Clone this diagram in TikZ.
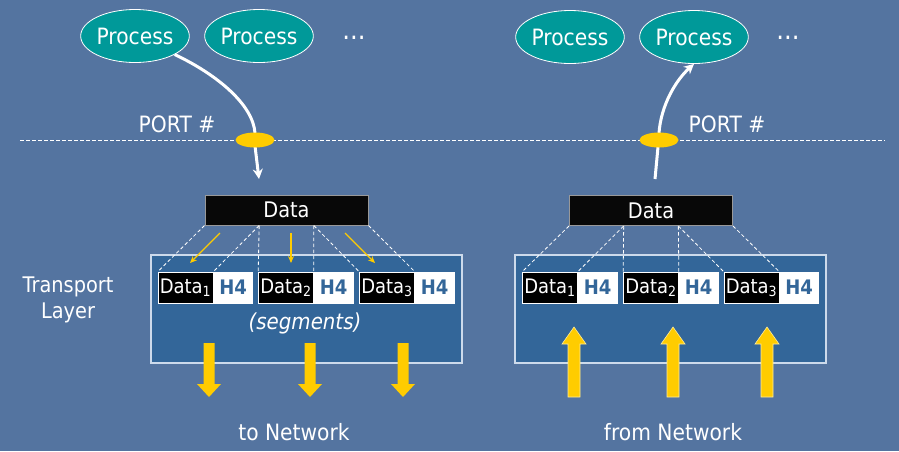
\documentclass[tikz,border=0pt]{standalone}
\usepackage{fontspec}
\setmainfont{DejaVu Sans}[FakeStretch=0.9]
\usetikzlibrary{shapes.geometric,arrows.meta,calc}
\definecolor{bgblue}{RGB}{84,116,160}
\definecolor{boxblue}{RGB}{51,102,153}
\definecolor{procteal}{RGB}{0,153,153}
\definecolor{yel}{RGB}{255,204,0}
\definecolor{boxedge}{RGB}{205,218,235}
\begin{document}
\begin{tikzpicture}[x=1pt,y=-1pt,
  lbl/.style={text=white,font=\fontsize{22.5}{26}\selectfont,inner sep=0pt},
  proc/.style={ellipse,fill=procteal,draw=white,line width=0.8pt,minimum width=108pt,minimum height=53pt,inner sep=0pt,text=white,font=\fontsize{22.5}{26}\selectfont},
  port/.style={ellipse,fill=yel,draw=none,minimum width=39pt,minimum height=15pt,inner sep=0pt},
  databox/.style={rectangle,fill=black!97,draw=black!40,line width=1pt,minimum width=163pt,minimum height=30pt,inner sep=0pt,text=white,font=\fontsize{21.5}{25}\selectfont},
  tbox/.style={rectangle,fill=boxblue,draw=boxedge,line width=1.5pt,minimum width=311pt,minimum height=108pt,inner sep=0pt},
  segd/.style={rectangle,fill=black,draw=white,line width=0.6pt,minimum width=55pt,minimum height=31pt,inner sep=0pt,text=white,font=\fontsize{20}{24}\selectfont},
  segh/.style={rectangle,fill=white,draw=white,line width=0.6pt,minimum width=39pt,minimum height=31pt,inner sep=0pt,text=boxblue,font=\fontsize{20}{24}\selectfont\bfseries},
  thindash/.style={draw=white,line width=0.8pt,dash pattern=on 3.5pt off 2.5pt},
  warrow/.style={draw=white,line width=3pt},
  yarrow/.style={draw=yel,line width=1.2pt,-{Stealth[length=7pt,width=6pt]}},
  fatdown/.pic={\fill[yel] (-5.5,0) -- (5.5,0) -- (5.5,41) -- (12,41) -- (0,54) -- (-12,41) -- (-5.5,41) -- cycle;},
  fatup/.pic={\fill[yel,draw=white!60!yel,line width=0.6pt] (0,0) -- (12,17) -- (6,17) -- (6,70) -- (-6,70) -- (-6,17) -- (-12,17) -- cycle;}
]
\fill[bgblue] (0,0) rectangle (899,451);
\useasboundingbox (0,0) rectangle (899,451);

% processes
\node[proc] (p1) at (135,36) {Process};
\node[proc] (p2) at (259,36) {Process};
\node[lbl,font=\fontsize{27}{30}\selectfont] (d1) at (354,38) {...};
\node[proc] (p3) at (570,37) {Process};
\node[proc] (p4) at (694,37) {Process};
\node[lbl,font=\fontsize{27}{30}\selectfont] (d2) at (788,38) {...};

% port line
\coordinate (hl) at (20,140);
\coordinate (hr) at (885,140);
\draw[thindash] (hl) -- (hr);
\node[lbl] (portlblL) at (177,124) {PORT \#};
\node[lbl] (portlblR) at (727,124) {PORT \#};

% arrows through ports
\coordinate (tipL) at (259,179);
\coordinate (startR) at (655,179);
\draw[warrow] (p1.-25) .. controls (218,75) and (253,105) .. (255,133);
\draw[warrow] (startR) -- (658,147);
\draw[warrow,-{Stealth[length=10pt,width=10pt]}] (659,133) .. controls (661,105) and (676,80) .. (p4.south);
\draw[warrow,-{Stealth[length=10pt,width=10pt]}] (255,146) -- (tipL);
\node[port] (pL) at (255,140) {};
\node[port] (pR) at (659,140) {};

% transport boxes
\node[tbox] (tL) at (306.5,309) {};
\node[tbox] (tR) at (670.5,309) {};

% data boxes
\node[databox] (dL) at (286.5,210) {Data};
\node[databox] (dR) at (651,210.5) {Data};

% segments left
\node[segd] (s1) at (185.5,287.5) {Data\textsubscript{1}};
\node[segh,anchor=west] (h1) at (s1.east) {H4};
\node[segd] (s2) at (286,287.5) {Data\textsubscript{2}};
\node[segh,anchor=west] (h2) at (s2.east) {H4};
\node[segd] (s3) at (387,287.5) {Data\textsubscript{3}};
\node[segh,anchor=west] (h3) at (s3.east) {H4};
% segments right
\node[segd] (r1) at (550,287.5) {Data\textsubscript{1}};
\node[segh,anchor=west] (g1) at (r1.east) {H4};
\node[segd] (r2) at (651,287.5) {Data\textsubscript{2}};
\node[segh,anchor=west] (g2) at (r2.east) {H4};
\node[segd] (r3) at (751.5,287.5) {Data\textsubscript{3}};
\node[segh,anchor=west] (g3) at (r3.east) {H4};

% dashed split lines
\coordinate (dLa) at ($(dL.south west)!1/3!(dL.south east)$);
\coordinate (dLb) at ($(dL.south west)!2/3!(dL.south east)$);
\coordinate (dRa) at ($(dR.south west)!1/3!(dR.south east)$);
\coordinate (dRb) at ($(dR.south west)!2/3!(dR.south east)$);
\draw[thindash] (dL.south west) -- (s1.north west);
\draw[thindash] (dLa) -- (s1.north east);
\draw[thindash] (dLa) -- (s2.north west);
\draw[thindash] (dLb) -- (s2.north east);
\draw[thindash] (dLb) -- (s3.north west);
\draw[thindash] (dL.south east) -- (s3.north east);
\draw[thindash] (dR.south west) -- (r1.north west);
\draw[thindash] (dRa) -- (r1.north east);
\draw[thindash] (dRa) -- (r2.north west);
\draw[thindash] (dRb) -- (r2.north east);
\draw[thindash] (dRb) -- (r3.north west);
\draw[thindash] (dR.south east) -- (r3.north east);

% small yellow arrows
\coordinate (ya1) at (220,233); \coordinate (yb1) at (190,263);
\coordinate (ya2) at (291,233); \coordinate (yb2) at (291,263);
\coordinate (ya3) at (345,233); \coordinate (yb3) at (375,263);
\draw[yarrow] (ya1) -- (yb1);
\draw[yarrow] (ya2) -- (yb2);
\draw[yarrow] (ya3) -- (yb3);

\node[lbl,font=\fontsize{22}{25}\selectfont\itshape] (seg) at (305,323) {(segments)};

% fat arrows
\pic at (209,343) {fatdown};
\pic at (310,343) {fatdown};
\pic at (403,343) {fatdown};
\pic at (574,327) {fatup};
\pic at (673,327) {fatup};
\pic at (767,327) {fatup};

% labels
\node[lbl,align=center,font=\fontsize{21.5}{26}\selectfont] (tl) at (68,300) {Transport\\Layer};
\node[lbl] (toN) at (294,432) {to Network};
\node[lbl] (fromN) at (673,432) {from Network};
\end{tikzpicture}
\end{document}
